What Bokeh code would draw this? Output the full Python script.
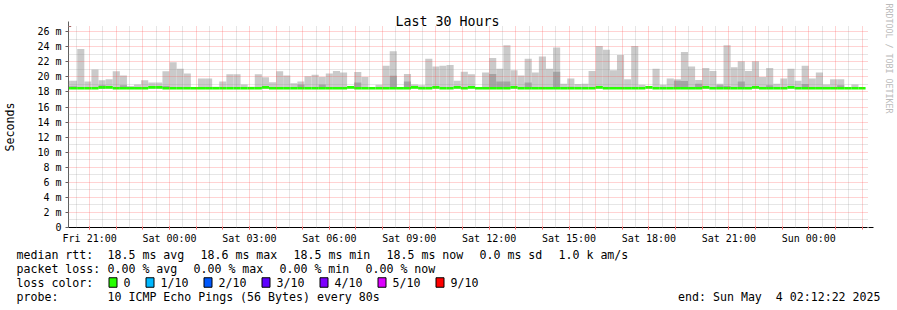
import math
from bokeh.plotting import figure
from bokeh.layouts import column, row
from bokeh.models import Range1d, FixedTicker, Arrow, NormalHead, ColumnDataSource
from bokeh.core.properties import value
from bokeh.embed import file_html
from bokeh.resources import INLINE

# ---------------- data ----------------
title_text = "Last 30 Hours"
y_axis_title = "Seconds"
watermark_text = "RRDTOOL / TOBI OETIKER"

# time in hours relative to Sat 00:00
range_start_h = -3.7939      # Fri 20:12:22
range_end_h = 26.2061        # Sun 02:12:22
first_block_h = -4.0         # Fri 20:00, consolidation step = 16 min
block_h = 16.0 / 60.0

x_tick_hours = [-3, 0, 3, 6, 9, 12, 15, 18, 21, 24]
x_tick_labels = ["Fri 21:00", "Sat 00:00", "Sat 03:00", "Sat 06:00", "Sat 09:00",
                 "Sat 12:00", "Sat 15:00", "Sat 18:00", "Sat 21:00", "Sun 00:00"]
y_tick_values = [0, 2, 4, 6, 8, 10, 12, 14, 16, 18, 20, 22, 24, 26]
y_tick_labels = ["0", "2 m", "4 m", "6 m", "8 m", "10 m", "12 m", "14 m", "16 m",
                 "18 m", "20 m", "22 m", "24 m", "26 m"]

# smoke (max ping per 16-min block), ms
smoke_max = [
    19.5, 19.5, 23.7, 19.4, 21.0, 19.55, 19.7, 20.75, 20.2, 18.8,
    19.0, 19.55, 19.25, 19.25, 20.75, 21.95, 21.1, 20.45, 18.5, 19.8,
    19.8, 18.7, 19.4, 20.35, 20.35, 19.0, 18.7, 20.35, 19.95, 19.3,
    20.75, 20.2, 19.15, 19.4, 20.1, 20.3, 20.0, 20.45, 20.8, 20.6,
    18.7, 20.65, 20.0, 18.5, 18.95, 21.5, 23.4, 18.65, 20.4, 19.0,
    18.9, 22.4, 21.4, 21.5, 21.6, 19.5, 20.7, 20.35, 18.5, 20.6,
    22.5, 21.1, 24.2, 20.9, 20.2, 22.4, 20.6, 22.7, 21.1, 23.9,
    19.1, 19.8, 19.05, 19.1, 20.8, 24.1, 23.6, 20.9, 22.9, 19.7,
    24.1, 18.95, 18.8, 21.1, 18.95, 19.8, 19.7, 23.3, 21.4, 19.6,
    21.2, 20.8, 19.1, 24.2, 21.3, 22.1, 20.8, 22.1, 20.0, 21.2,
    19.1, 19.8, 21.1, 19.5, 21.5, 19.8, 20.6, 19.0, 19.7, 19.7,
    18.65, 19.0, 18.5,
]
# inner (darker) smoke band, ms
smoke_inner = [
    18.75, 18.75, 18.45, 18.45, 18.45, 18.9, 18.45, 18.45, 18.9, 18.45,
    18.45, 18.45, 18.45, 18.45, 18.8, 18.45, 18.45, 18.45, 18.45, 18.45,
    18.45, 18.45, 18.45, 18.45, 18.45, 18.45, 18.45, 18.45, 18.45, 18.45,
    18.45, 18.45, 18.45, 19.0, 18.45, 18.45, 19.0, 18.45, 18.45, 18.45,
    18.45, 19.25, 18.45, 18.45, 18.45, 18.45, 20.15, 18.45, 19.4, 18.45,
    18.45, 18.45, 18.45, 18.45, 18.45, 18.45, 18.45, 18.45, 18.45, 18.45,
    20.4, 19.4, 19.4, 18.45, 18.45, 19.25, 18.45, 18.45, 18.45, 20.7,
    18.45, 18.7, 18.45, 18.45, 18.45, 18.45, 18.45, 18.45, 18.45, 18.45,
    18.45, 18.45, 18.45, 18.45, 18.45, 18.45, 19.5, 19.45, 18.45, 19.1,
    18.45, 18.45, 18.9, 18.8, 18.45, 19.4, 18.45, 18.45, 18.45, 18.9,
    18.45, 18.45, 18.45, 18.45, 19.05, 18.45, 18.45, 18.45, 18.45, 18.9,
    18.45, 18.45, 18.45,
]
# median rtt per block, ms
median_rtt = [
    18.5, 18.5, 18.5, 18.5, 18.5, 18.6, 18.6, 18.5, 18.5, 18.5,
    18.5, 18.5, 18.6, 18.6, 18.5, 18.5, 18.5, 18.5, 18.5, 18.5,
    18.5, 18.5, 18.5, 18.5, 18.5, 18.5, 18.5, 18.5, 18.6, 18.5,
    18.5, 18.5, 18.5, 18.5, 18.5, 18.5, 18.5, 18.5, 18.5, 18.5,
    18.6, 18.5, 18.5, 18.5, 18.5, 18.5, 18.5, 18.5, 18.5, 18.6,
    18.5, 18.5, 18.6, 18.5, 18.5, 18.6, 18.5, 18.6, 18.5, 18.5,
    18.5, 18.5, 18.5, 18.6, 18.5, 18.5, 18.5, 18.5, 18.5, 18.5,
    18.5, 18.5, 18.5, 18.5, 18.5, 18.6, 18.5, 18.5, 18.5, 18.5,
    18.5, 18.5, 18.6, 18.5, 18.5, 18.5, 18.5, 18.5, 18.5, 18.5,
    18.6, 18.5, 18.5, 18.5, 18.5, 18.5, 18.5, 18.6, 18.5, 18.5,
    18.5, 18.5, 18.6, 18.5, 18.5, 18.5, 18.5, 18.5, 18.5, 18.5,
    18.5, 18.5, 18.5,
]
smoke_floor_ms = 18.45

legend_rtt = ["median rtt:", "18.5 ms avg", "18.6 ms max", "18.5 ms min", "18.5 ms now",
              "0.0 ms sd", "1.0 k am/s"]
legend_loss = ["packet loss:", "0.00 % avg", "0.00 % max", "0.00 % min", "0.00 % now"]
loss_color_title = "loss color:"
loss_labels = ["0", "1/10", "2/10", "3/10", "4/10", "5/10", "9/10"]
loss_colors = ["#26ff00", "#00b8ff", "#0059ff", "#5e00ff", "#7e00ff", "#dd00ff", "#ff0000"]
probe_title = "probe:"
probe_text = "10 ICMP Echo Pings (56 Bytes) every 80s"
end_text = "end: Sun May  4 02:12:22 2025"

# ---------------- styling ----------------
MONO = "DejaVu Sans Mono"
W = 897
MAIN_W = 875
SIDE_W = W - MAIN_W
MAIN_H = 246
Y_MAX = 26.7
FRAME_L, FRAME_B = 67.0, 228.0

def keep_spaces(s):
    return s.replace("  ", " \u00a0")

p = figure(width=MAIN_W, height=MAIN_H, output_backend="svg", toolbar_location=None,
           x_range=Range1d(range_start_h, range_end_h), y_range=Range1d(0, Y_MAX),
           min_border_left=67, min_border_right=8, min_border_top=26, min_border_bottom=18)
p.frame_align = False
p.outline_line_color = None
p.background_fill_color = "white"
p.border_fill_color = "white"

p.title.text = title_text
p.title.align = "left"
p.title.offset = 327
p.title.text_font = MONO
p.title.text_font_size = "13.3px"
p.title.text_font_style = "normal"
p.title.text_color = "black"
p.title.standoff = -4

n = len(smoke_max)
left = [first_block_h + i * block_h for i in range(n)]
right = [l + block_h for l in left]
med_half = 0.18
src = ColumnDataSource(dict(
    left=left, right=right, top=smoke_max, inner=smoke_inner,
    bottom=[smoke_floor_ms] * n,
    mlo=[m - med_half for m in median_rtt], mhi=[m + med_half for m in median_rtt],
))
p.quad(left="left", right="right", bottom="bottom", top="top", source=src,
       fill_color="#CACACA", line_color=None)
p.quad(left="left", right="right", bottom="bottom", top="inner", source=src,
       fill_color="#A4A4A4", line_color=None)
p.quad(left="left", right="right", bottom="mlo", top="mhi", source=src,
       fill_color=loss_colors[0], line_color=None)

# grid
half_hours = [h + 0.5 for h in range(-4, 26)]
p.xgrid.ticker = FixedTicker(ticks=list(range(-3, 27)), minor_ticks=half_hours)
p.ygrid.ticker = FixedTicker(ticks=y_tick_values, minor_ticks=list(range(1, 27, 2)))
for g in (p.xgrid, p.ygrid):
    g.grid_line_color = "#FF5050"
    g.grid_line_alpha = 0.5
    g.grid_line_dash = "1 1"
    g.minor_grid_line_color = "#8F8F8F"
    g.minor_grid_line_alpha = 0.45
    g.minor_grid_line_dash = "1 1"
    g.level = "guide"

# axes
xa = p.xaxis[0]
xa.ticker = FixedTicker(ticks=x_tick_hours, minor_ticks=list(range(-3, 27)))
xa.major_label_overrides = {h: t for h, t in zip(x_tick_hours, x_tick_labels)}
xa.axis_line_color = "black"
xa.major_tick_line_color = "#F07070"
xa.minor_tick_line_color = "#F07070"
xa.major_tick_out = 2
xa.major_tick_in = 1
xa.minor_tick_out = 2
xa.minor_tick_in = 1
xa.major_label_standoff = 3
xa.major_label_text_font = MONO
xa.major_label_text_font_size = "10px"
xa.major_label_text_color = "black"

ya = p.yaxis[0]
ya.ticker = FixedTicker(ticks=y_tick_values)
ya.major_label_overrides = {v: t for v, t in zip(y_tick_values, y_tick_labels)}
ya.axis_line_color = "#606060"
ya.major_tick_line_color = "#606060"
ya.minor_tick_line_color = None
ya.major_tick_out = 3
ya.major_tick_in = 0
ya.major_label_standoff = 4
ya.major_label_text_font = MONO
ya.major_label_text_font_size = "10px"
ya.major_label_text_color = "black"
ya.axis_label = y_axis_title
ya.axis_label_text_font = MONO
ya.axis_label_text_font_size = "11.6px"
ya.axis_label_text_font_style = "normal"
ya.axis_label_text_color = "black"
ya.axis_label_standoff = 17

# page-pixel helpers (layout only)
PX_PER_H = 800.0 / 30.0
PX_PER_MS = 202.0 / Y_MAX
def hx(px):
    return (px - FRAME_L) / PX_PER_H + range_start_h
def my(py):
    return (FRAME_B - py) / PX_PER_MS

arrow_col = "#7F1A1A"
p.add_layout(Arrow(end=NormalHead(size=5, fill_color=arrow_col, line_color=arrow_col),
                   x_start=range_end_h, y_start=0, x_end=hx(873), y_end=0,
                   line_color="black", line_width=1))
p.add_layout(Arrow(end=NormalHead(size=5, fill_color=arrow_col, line_color=arrow_col),
                   x_start=range_start_h, y_start=Y_MAX, x_end=range_start_h, y_end=my(21),
                   line_color="#606060", line_width=1))

# ---------------- side strip with watermark ----------------
r = figure(width=SIDE_W, height=MAIN_H, output_backend="svg", toolbar_location=None,
           x_range=Range1d(0, SIDE_W), y_range=Range1d(MAIN_H, 0),
           x_axis_type=None, y_axis_type=None, min_border=0,
           min_border_left=0, min_border_right=0, min_border_top=0, min_border_bottom=0)
r.frame_align = False
r.outline_line_color = None
r.grid.visible = False
r.text(x=[888.5 - MAIN_W], y=[58.0], text=[watermark_text], text_font=value(MONO),
       text_font_size="8.3px", text_align="center", text_baseline="middle",
       text_color="#BBBBBB", angle=-math.pi / 2)

# ---------------- legend figure ----------------
LEG_H = 310 - MAIN_H
q = figure(width=W, height=LEG_H, output_backend="svg", toolbar_location=None,
           x_range=Range1d(0, W), y_range=Range1d(LEG_H, 0),
           x_axis_type=None, y_axis_type=None, min_border=0,
           min_border_left=0, min_border_right=0, min_border_top=0, min_border_bottom=0)
q.frame_align = False
q.outline_line_color = None
q.grid.visible = False

CH = 7.0     # char advance at 11.6px mono
GAP = 16.0
def row_positions(items, x0=107.0):
    xs = [16.0]
    x = x0
    for it in items[1:]:
        xs.append(x)
        x += len(it) * CH + GAP
    return xs

def py(page_y):
    return page_y - MAIN_H

tx, ty, tt = [], [], []
for items, yy in ((legend_rtt, 254), (legend_loss, 268)):
    xs = row_positions(items)
    tx += xs; ty += [py(yy)] * len(items); tt += items
tx.append(16.0); ty.append(py(282)); tt.append(loss_color_title)
tx += [16.0, 107.0]; ty += [py(296)] * 2; tt += [probe_title, probe_text]

sq_x, sq_lab_x = [], []
x = 108.5
for lab in loss_labels:
    sq_x.append(x)
    sq_lab_x.append(x + 14.5)
    x = x + 14.5 + len(lab) * CH + 15.5
tx += sq_lab_x; ty += [py(282)] * len(loss_labels); tt += loss_labels

q.text(x=tx, y=ty, text=[keep_spaces(t) for t in tt], text_font=value(MONO),
       text_font_size="11.6px", text_baseline="middle", text_align="left", text_color="black")
q.text(x=[880.0], y=[py(296)], text=[keep_spaces(end_text)], text_font=value(MONO),
       text_font_size="11.6px", text_baseline="middle", text_align="right", text_color="black")
q.rect(x=[s + 4 for s in sq_x], y=[py(282)] * len(sq_x), width=8, height=9.5,
       fill_color=loss_colors, line_color="black", line_width=1)

layout = column(row(p, r, spacing=0), q, spacing=0)
open("out.html", "w").write(file_html(layout, INLINE))
